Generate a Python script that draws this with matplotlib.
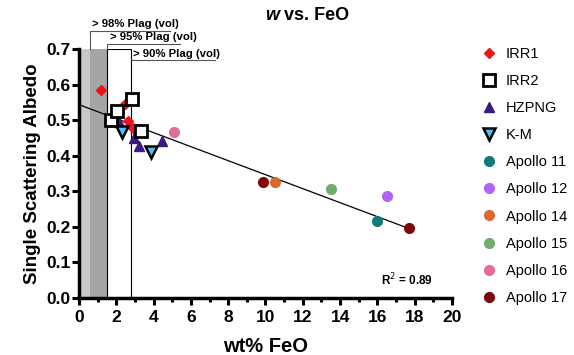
import numpy as np
import matplotlib
matplotlib.use("Agg")
import matplotlib.pyplot as plt
from matplotlib.ticker import MultipleLocator, FormatStrFormatter

plt.rcParams['font.family'] = ['Liberation Sans', 'DejaVu Sans']

# data
irr1_x = [1.17, 2.49, 2.64, 2.88]
irr1_y = [0.585, 0.546, 0.498, 0.478]
irr2_x = [1.70, 2.05, 2.82, 3.35]
irr2_y = [0.500, 0.527, 0.560, 0.471]
hzpng_x = [2.12, 2.96, 3.22, 4.45]
hzpng_y = [0.494, 0.450, 0.428, 0.443]
km_x = [2.29, 3.85]
km_y = [0.468, 0.411]
apollo_names = ["Apollo 11", "Apollo 12", "Apollo 14", "Apollo 15", "Apollo 16", "Apollo 17"]
apollo_x = [[15.96], [16.53], [10.49], [13.53], [5.09], [9.87, 17.68]]
apollo_y = [[0.216], [0.288], [0.326], [0.306], [0.468], [0.326, 0.197]]
apollo_colors = ["#137a78", "#b263f7", "#d9692f", "#6fad6c", "#e56d95", "#7d0a0a"]

# linear fit shown on the chart
fit_intercept = 0.544
fit_slope = -0.0197
fit_xmax = 17.7
r2_text = "R$^2$ = 0.89"

# plagioclase zones (wt% FeO limits)
zone_98 = 0.6
zone_95 = 1.5
zone_90 = 2.8

fig = plt.figure(figsize=(5.74, 3.55), dpi=100)
ax = fig.add_axes([0.1376, 0.1606, 0.6498, 0.7008])

ax.axvspan(0, zone_98, ymax=1, color="#c9c9c9", lw=0, zorder=0)
ax.axvspan(zone_98, zone_95, ymax=1, color="#a5a5a5", lw=0, zorder=0)
ax.axvspan(zone_95, zone_90, ymax=1, facecolor="white", edgecolor="black", lw=0.8, zorder=0)

# bracket labels above the zones
ax.plot([zone_98, zone_98, 4.9], [0.7, 0.751, 0.751], color="#555555", lw=0.8, clip_on=False)
ax.text(zone_98 + 0.12, 0.757, "> 98% Plag (vol)", fontsize=8.2, fontweight="bold", ha="left", va="bottom")
ax.plot([zone_95, zone_95, 5.4], [0.7, 0.716, 0.716], color="#555555", lw=0.8, clip_on=False)
ax.text(zone_95 + 0.15, 0.721, "> 95% Plag (vol)", fontsize=8.2, fontweight="bold", ha="left", va="bottom")
ax.plot([zone_90, 7.3], [0.669, 0.669], color="#555555", lw=0.8, clip_on=False)
ax.text(zone_90 + 0.12, 0.673, "> 90% Plag (vol)", fontsize=8.2, fontweight="bold", ha="left", va="bottom")

xs = np.array([0, fit_xmax])
ax.plot(xs, fit_intercept + fit_slope * xs, color="black", lw=0.9, zorder=2)

h_irr1, = ax.plot(irr1_x, irr1_y, "D", color="#e8151b", ms=5, mec="#e8151b", zorder=4, label="IRR1")
h_hz, = ax.plot(hzpng_x, hzpng_y, "^", color="#3a1a7c", ms=7, mec="#3a1a7c", zorder=3, label="HZPNG")
h_km, = ax.plot(km_x, km_y, "v", color="#4fc1f2", ms=8, mec="black", mew=1.8, zorder=5, label="K-M")
h_irr2, = ax.plot(irr2_x, irr2_y, "s", color="white", ms=8, mec="black", mew=2, zorder=5, label="IRR2")
h_ap = []
for name, xv, yv, c in zip(apollo_names, apollo_x, apollo_y, apollo_colors):
    h, = ax.plot(xv, yv, "o", color=c, ms=7, zorder=4, label=name)
    h_ap.append(h)

ax.text(17.6, 0.05, r2_text, fontsize=8.5, fontweight="bold", ha="center", va="center")

ax.set_xlim(0, 20)
ax.set_ylim(0, 0.7)
ax.xaxis.set_major_locator(MultipleLocator(2))
ax.xaxis.set_minor_locator(MultipleLocator(1))
ax.yaxis.set_major_locator(MultipleLocator(0.1))
ax.yaxis.set_major_formatter(FormatStrFormatter("%.1f"))
for s in ["top", "right"]:
    ax.spines[s].set_visible(False)
for s in ["left", "bottom"]:
    ax.spines[s].set_linewidth(2.5)
ax.tick_params(which="major", length=5, width=2.2, labelsize=12.5, pad=1)
ax.tick_params(axis="x", which="major", pad=4)
ax.tick_params(which="minor", length=3, width=2.2)
for lab in ax.get_xticklabels() + ax.get_yticklabels():
    lab.set_fontweight("bold")

ax.set_xlabel("wt% FeO", fontsize=14.5, fontweight="bold", labelpad=8)
ax.set_ylabel("Single Scattering Albedo", fontsize=13.5, fontweight="bold", labelpad=4)

# title: italic w + rest
t1 = fig.text(265 / 574, 1 - 15 / 355, "w", fontsize=13, fontweight="bold", style="italic", va="center", ha="left")
fig.canvas.draw()
bb = t1.get_window_extent()
fig.text(bb.x1 / fig.bbox.width, 1 - 15 / 355, " vs. FeO", fontsize=13, fontweight="bold", va="center", ha="left")

handles = [h_irr1, h_irr2, h_hz, h_km] + h_ap
leg = fig.legend(handles=handles, loc="upper left", bbox_to_anchor=(0.813, 0.905), frameon=False,
                 fontsize=10.5, labelspacing=0.9, handletextpad=0.6, handlelength=1.2, numpoints=1)

fig.savefig("out.png", dpi=100)
